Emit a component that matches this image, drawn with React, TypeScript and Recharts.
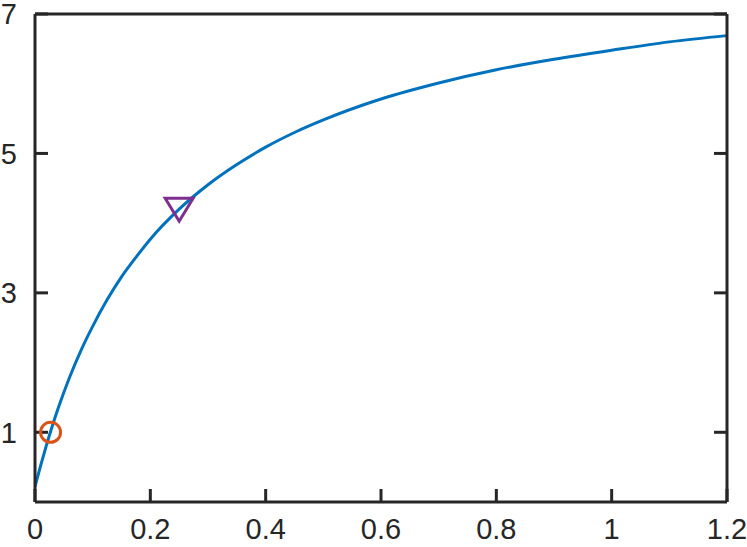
import React from 'react';
import { ComposedChart, Line, Scatter, XAxis, YAxis } from 'recharts';

const curveX = [0, 0.01, 0.02, 0.03, 0.04, 0.06, 0.08, 0.1, 0.125, 0.15, 0.175, 0.2, 0.25, 0.3, 0.35, 0.4, 0.45, 0.5, 0.6, 0.7, 0.8, 0.9, 1.0, 1.1, 1.2];
const curveY = [0.22, 0.53, 0.82, 1.09, 1.34, 1.79, 2.18, 2.52, 2.9, 3.23, 3.51, 3.77, 4.2, 4.55, 4.84, 5.09, 5.3, 5.48, 5.78, 6.01, 6.2, 6.35, 6.48, 6.6, 6.69];

const circleX = [0.027];
const circleY = [1.0];
const triangleX = [0.25];
const triangleY = [4.2];

const xTicks = [0, 0.2, 0.4, 0.6, 0.8, 1, 1.2];
const yTicks = [1, 3, 5, 7];

const curveData = curveX.map((x, i) => ({ x, y: curveY[i] }));
const circleData = circleX.map((x, i) => ({ x, y: circleY[i] }));
const triangleData = triangleX.map((x, i) => ({ x, y: triangleY[i] }));

const AXIS = '#262626';
const FONT = { fontFamily: 'Liberation Sans, Arial, sans-serif', fontSize: 29, fill: AXIS };

const CircleMark = (props: any) => {
  const { cx, cy } = props;
  return <circle cx={cx} cy={cy} r={10} fill="none" stroke="#D95319" strokeWidth={3} />;
};

const TriangleMark = (props: any) => {
  const { cx, cy } = props;
  const pts = `${cx - 14},${cy - 11} ${cx + 14},${cy - 11} ${cx},${cy + 12}`;
  return <polygon points={pts} fill="none" stroke="#7E2F8E" strokeWidth={3} strokeLinejoin="miter" />;
};

const fmtX = (v: number) => String(v);

export default function App() {
  return (
    <div style={{ position: 'absolute', left: 0, top: 0, background: '#fff' }}>
      <ComposedChart width={747} height={547} margin={{ top: 0, right: 0, bottom: 0, left: 0 }}>
        <XAxis
          xAxisId={0}
          dataKey="x"
          type="number"
          domain={[0, 1.2]}
          ticks={xTicks}
          tickFormatter={fmtX}
          allowDataOverflow
          height={45}
          orientation="bottom"
          axisLine={{ stroke: AXIS, strokeWidth: 3 }}
          tickLine={{ stroke: AXIS, strokeWidth: 3 }}
          tickSize={-13}
          tickMargin={29}
          tick={FONT}
          interval={0}
        />
        <XAxis
          xAxisId="top"
          type="number"
          domain={[0, 1.2]}
          ticks={xTicks}
          allowDataOverflow
          height={14}
          orientation="top"
          axisLine={{ stroke: AXIS, strokeWidth: 3 }}
          tickLine={{ stroke: AXIS, strokeWidth: 3 }}
          tickSize={-13}
          tickFormatter={() => ''}
          interval={0}
        />
        <YAxis
          yAxisId={0}
          type="number"
          domain={[0, 7]}
          ticks={yTicks}
          allowDataOverflow
          width={35}
          orientation="left"
          axisLine={{ stroke: AXIS, strokeWidth: 3 }}
          tickLine={{ stroke: AXIS, strokeWidth: 3 }}
          tickSize={-13}
          tickMargin={31}
          tick={FONT}
          interval={0}
        />
        <YAxis
          yAxisId="right"
          type="number"
          domain={[0, 7]}
          ticks={yTicks}
          allowDataOverflow
          width={20}
          orientation="right"
          axisLine={{ stroke: AXIS, strokeWidth: 3 }}
          tickLine={{ stroke: AXIS, strokeWidth: 3 }}
          tickSize={-13}
          tickFormatter={() => ''}
          interval={0}
        />
        <Line
          data={curveData}
          dataKey="y"
          type="monotone"
          stroke="#0072BD"
          strokeWidth={3}
          dot={false}
          activeDot={false}
          isAnimationActive={false}
        />
        <Scatter data={circleData} dataKey="y" shape={<CircleMark />} isAnimationActive={false} />
        <Scatter data={triangleData} dataKey="y" shape={<TriangleMark />} isAnimationActive={false} />
      </ComposedChart>
    </div>
  );
}
